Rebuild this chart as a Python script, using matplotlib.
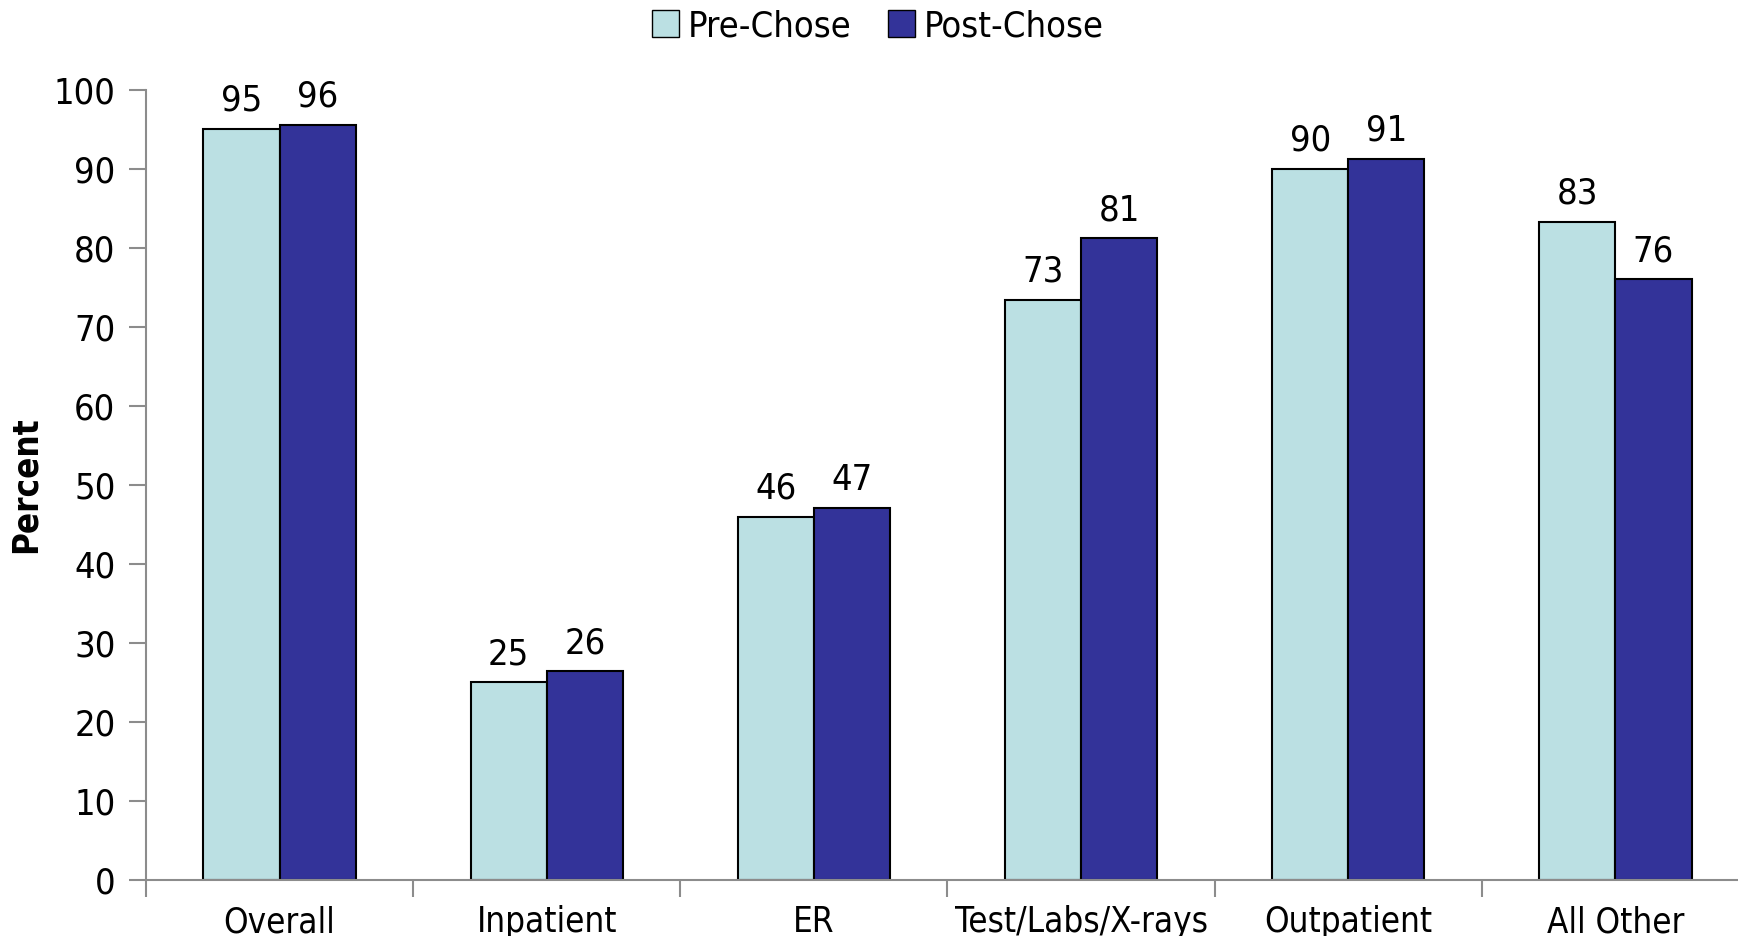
import numpy as np
import matplotlib.pyplot as plt
from matplotlib.patches import Patch

# ===============================
# Data
# ===============================
categories = ["Overall", "Inpatient", "ER", "Test/Labs/X-rays", "Outpatient", "All Other"]
pre_chose = [95.1, 25.0, 46.0, 73.4, 90.0, 83.3]
post_chose = [95.6, 26.4, 47.1, 81.2, 91.3, 76.0]
pre_labels = ["95", "25", "46", "73", "90", "83"]
post_labels = ["96", "26", "47", "81", "91", "76"]

pre_color = "#BBE0E3"
post_color = "#333399"
axis_gray = "#8C8C8C"

plt.rcParams["font.family"] = ["DejaVu Sans"]
plt.rcParams["font.stretch"] = "condensed"

fig = plt.figure(figsize=(17.38, 9.36), dpi=100)
ax = fig.add_axes([0.084, 0.0598, 0.9223, 0.8442])

x = np.arange(len(categories)) + 0.5
w = 0.285

b1 = ax.bar(x - w / 2, pre_chose, w, color=pre_color, edgecolor="black", linewidth=1.5)
b2 = ax.bar(x + w / 2, post_chose, w, color=post_color, edgecolor="black", linewidth=1.5)

for rect, lab in zip(b1, pre_labels):
    ax.text(rect.get_x() + rect.get_width() / 2, rect.get_height() + 1.4, lab,
            ha="center", va="bottom", fontsize=26, stretch="condensed")
for rect, lab in zip(b2, post_labels):
    ax.text(rect.get_x() + rect.get_width() / 2, rect.get_height() + 1.4, lab,
            ha="center", va="bottom", fontsize=26, stretch="condensed")

ax.set_xlim(0, len(categories))
ax.set_ylim(0, 100)
ax.set_yticks(np.arange(0, 101, 10))
ax.tick_params(axis="y", labelsize=26, length=12, width=1.5, color=axis_gray, pad=10)

ax.set_xticks(np.arange(0, len(categories) + 1))
ax.set_xticklabels([])
ax.set_xticks(x, minor=True)
ax.set_xticklabels(categories, minor=True)
ax.tick_params(axis="x", which="major", length=12, width=1.5, color=axis_gray)
ax.tick_params(axis="x", which="minor", length=0, labelsize=25, pad=18)

for s in ["top", "right"]:
    ax.spines[s].set_visible(False)
for s in ["left", "bottom"]:
    ax.spines[s].set_color(axis_gray)
    ax.spines[s].set_linewidth(1.5)

ax.set_ylabel("Percent", fontsize=25, fontweight="bold", labelpad=8)

handles = [Patch(facecolor=pre_color, edgecolor="black", label="Pre-Chose"),
           Patch(facecolor=post_color, edgecolor="black", label="Post-Chose")]
fig.legend(handles=handles, loc="upper center", bbox_to_anchor=(0.505, 1.025), ncol=2,
           frameon=False, fontsize=26, handlelength=0.75, handleheight=0.75,
           handletextpad=0.25, columnspacing=1.0)

fig.savefig("out.png", dpi=100)
